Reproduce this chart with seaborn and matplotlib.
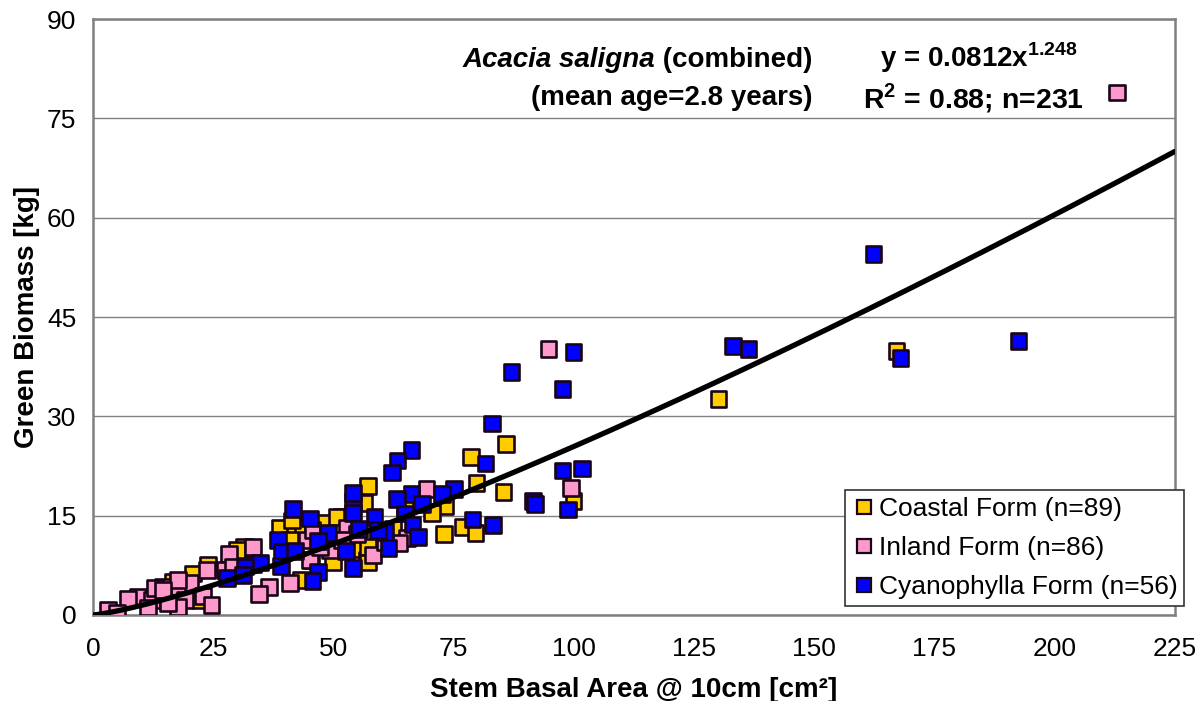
import numpy as np
import pandas as pd
import matplotlib
matplotlib.use("Agg")
import matplotlib.pyplot as plt
import seaborn as sns

# ---------------- data ----------------
coastal_x = [130.1, 167.2, 100.0, 85.9, 78.6, 79.8, 85.4, 73.2, 70.5, 64.9, 73.0, 76.9,
             79.6, 62.4, 57.2, 56.5, 51.8, 47.8, 38.9, 42.0, 43.7, 41.0, 32.0, 55.1,
             57.0, 49.9, 43.2, 31.4, 30.0, 20.8, 23.9, 16.6, 22.2, 41.4, 50.7, 57.2, 57.2]
coastal_y = [32.6, 39.9, 17.2, 25.8, 23.9, 19.9, 18.6, 16.5, 15.4, 16.3, 12.2, 13.3,
             12.4, 13.0, 19.5, 16.9, 14.8, 14.0, 13.1, 13.1, 13.1, 11.3, 10.1, 10.0,
             8.3, 7.9, 5.3, 10.3, 9.8, 6.3, 7.6, 5.0, 2.3, 14.3, 14.8, 10.3, 7.9]

inland_x = [213.0, 94.8, 99.4, 69.4, 65.3, 63.8, 52.8, 45.7, 54.9, 44.5, 49.3, 58.2,
            60.7, 51.8, 45.5, 41.0, 36.6, 34.5, 28.3, 23.7, 27.4, 20.2, 17.5, 14.6,
            9.4, 7.3, 12.3, 19.1, 17.7, 22.9, 24.7, 15.6, 3.1, 5.0, 11.4, 12.9,
            17.7, 14.6, 33.3, 45.1, 45.7, 47.2, 29.1, 33.3]
inland_y = [78.9, 40.2, 19.2, 19.0, 11.6, 10.9, 13.1, 12.5, 12.2, 11.3, 9.8, 9.1,
            11.0, 11.3, 8.2, 4.8, 4.2, 3.2, 9.2, 6.8, 6.8, 4.8, 4.2, 4.2,
            2.7, 2.4, 2.3, 2.3, 1.2, 2.9, 1.5, 1.8, 0.8, 0.3, 1.1, 4.1,
            5.3, 3.8, 7.6, 8.3, 12.8, 10.3, 7.3, 10.3]

cyano_x = [162.4, 133.1, 136.4, 168.0, 192.5, 100.0, 97.7, 97.7, 101.7, 98.8, 83.0, 81.7,
           91.5, 92.0, 87.1, 66.3, 63.4, 62.2, 75.1, 72.6, 66.3, 63.2, 68.4, 64.9,
           66.5, 79.0, 83.2, 60.7, 67.6, 61.5, 41.6, 54.1, 54.1, 54.1, 45.1, 58.6,
           55.3, 48.9, 59.3, 38.5, 46.8, 39.3, 42.0, 52.6, 34.7, 31.6, 39.1, 46.8,
           45.7, 54.1, 31.2, 27.9]
cyano_y = [54.5, 40.6, 40.2, 38.8, 41.4, 39.7, 34.1, 21.8, 22.1, 15.9, 28.9, 22.9,
           17.2, 16.8, 36.7, 24.9, 23.3, 21.5, 19.0, 18.3, 18.3, 17.5, 16.8, 15.3,
           13.7, 14.4, 13.6, 12.5, 11.8, 10.1, 16.0, 17.2, 18.4, 15.4, 14.6, 14.8,
           13.0, 12.4, 12.8, 11.3, 11.2, 9.5, 9.7, 9.7, 7.9, 7.3, 7.4, 6.5,
           5.1, 7.1, 6.0, 5.6]

series_names = ["Coastal Form (n=89)", "Inland Form (n=86)", "Cyanophylla Form (n=56)"]
series_colors = ["#FFCC00", "#FF99CC", "#0000FF"]

fit_a = 0.0812
fit_b = 1.248

x_ticks = [0, 25, 50, 75, 100, 125, 150, 175, 200, 225]
y_ticks = [0, 15, 30, 45, 60, 75, 90]

# ---------------- build frame ----------------
df = pd.concat([
    pd.DataFrame({"x": coastal_x, "y": coastal_y, "form": series_names[0]}),
    pd.DataFrame({"x": inland_x, "y": inland_y, "form": series_names[1]}),
    pd.DataFrame({"x": cyano_x, "y": cyano_y, "form": series_names[2]}),
], ignore_index=True)

sns.set_theme(style="white")
plt.rcParams["font.family"] = ["Liberation Sans", "DejaVu Sans"]
plt.rcParams["mathtext.fontset"] = "custom"
plt.rcParams["mathtext.rm"] = "Liberation Sans"
plt.rcParams["mathtext.bf"] = "Liberation Sans:bold"
plt.rcParams["text.color"] = "black"
plt.rcParams["axes.labelcolor"] = "black"

fig = plt.figure(figsize=(12.01, 7.01), dpi=100)
ax = fig.add_axes([0.0774, 0.1227, 0.9006, 0.850])

palette = dict(zip(series_names, series_colors))
sns.scatterplot(data=df, x="x", y="y", hue="form", hue_order=series_names,
                palette=palette, marker="s", s=125, edgecolor="#1a0518",
                linewidth=1.9, ax=ax, zorder=3, legend=True)

xf = np.linspace(0, 225, 300)
sns.lineplot(x=xf, y=fit_a * xf ** fit_b, color="black", linewidth=3.8,
             ax=ax, zorder=4, legend=False)

ax.set_xlim(0, 225)
ax.set_ylim(0, 90)
ax.set_xticks(x_ticks)
ax.set_yticks(y_ticks)
ax.tick_params(axis="both", labelsize=19, labelcolor="black", color="#808080",
               length=6, width=1, direction="out")
ax.tick_params(axis="x", pad=10)
ax.tick_params(axis="y", pad=6)
ax.yaxis.grid(True, color="#808080", linewidth=1)
ax.xaxis.grid(False)
ax.set_axisbelow(True)
for side in ["left", "bottom", "right", "top"]:
    ax.spines[side].set_color("#808080")
    ax.spines[side].set_linewidth(1.8)

ax.set_xlabel("Stem Basal Area @ 10cm [cm²]", fontsize=20, fontweight="bold", color="black")
ax.set_ylabel("Green Biomass [kg]", fontsize=20, fontweight="bold", color="black")
ax.xaxis.set_label_coords(0.5, -0.104)
ax.yaxis.set_label_coords(-0.049, 0.5)

# annotations
t1 = ax.text(0.665, 0.932, " (combined)", transform=ax.transAxes, ha="right",
             va="center", fontsize=20, fontweight="bold", color="black")
ax.annotate("Acacia saligna", xy=(0, 0), xycoords=t1, ha="right", va="bottom",
            fontsize=20, fontweight="bold", fontstyle="italic", color="black")
ax.text(0.665, 0.868, "(mean age=2.8 years)", transform=ax.transAxes, ha="right",
        va="center", fontsize=20, fontweight="bold", color="black")
ax.text(0.728, 0.935, r"y = 0.0812x$^{\mathbf{1.248}}$", transform=ax.transAxes,
        ha="left", va="center", fontsize=20, fontweight="bold", color="black")
ax.text(0.712, 0.868, r"R$^{\mathbf{2}}$ = 0.88; n=231", transform=ax.transAxes,
        ha="left", va="center", fontsize=20.5, fontweight="bold", color="black")

# legend
handles, labels = ax.get_legend_handles_labels()
for h in handles:
    try:
        h.set_markersize(10)
        h.set_markeredgewidth(1.6)
    except Exception:
        pass
leg = ax.legend(handles, labels, loc="lower left", bbox_to_anchor=(0.695, 0.015),
                fontsize=19, frameon=True, fancybox=False, framealpha=1,
                edgecolor="#333333", borderpad=0.25, handletextpad=0.05,
                handlelength=1.0, labelspacing=0.58, borderaxespad=0,
                labelcolor="black")
leg.get_frame().set_linewidth(1.2)
leg.set_zorder(10)

fig.savefig("out.png", dpi=100)
